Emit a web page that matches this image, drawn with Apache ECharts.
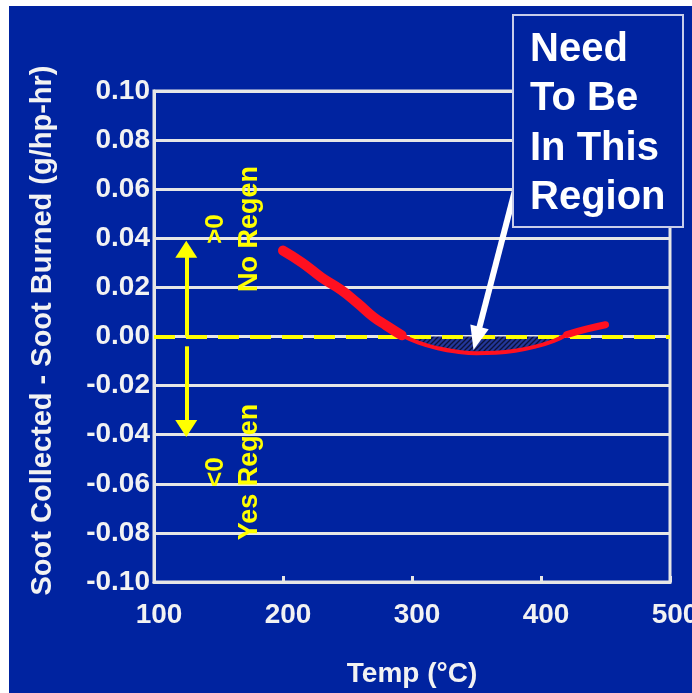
<!DOCTYPE html>
<html>
<head>
<meta charset="utf-8">
<script src="https://cdn.jsdelivr.net/npm/echarts@6/dist/echarts.min.js"></script>
<style>
  html, body { margin: 0; padding: 0; background: #ffffff; overflow: hidden; }
  #chart { width: 692px; height: 693px; }
</style>
</head>
<body>
<div id="chart"></div>
<script>
// temperature (°C) and soot collected - soot burned (g/hp-hr)
const tempC = [200, 215, 230, 245, 258, 270, 280, 292, 305, 320, 335, 350, 365, 380, 395, 410, 420, 435, 450];
const sootDiff = [0.035, 0.030, 0.024, 0.019, 0.0135, 0.008, 0.0045, 0.0005, -0.0025, -0.0048, -0.0062, -0.0068, -0.0066, -0.0058, -0.0042, -0.0018, 0.0008, 0.003, 0.0048];

// where the curve changes thickness (indices into the arrays above)
const thickEnd = 7;   // 200..292 drawn thick
const thinEnd = 16;   // 292..420 drawn thin, hatched down to zero

const calloutLines = ["Need", "To Be", "In This", "Region"];

const BLUE = "#0023a0";
const FONT = "'Liberation Sans', Arial, sans-serif";

const points = tempC.map((t, i) => [t, sootDiff[i]]);

// diagonal hatch for the region under zero
const hatch = document.createElement("canvas");
hatch.width = 5;
hatch.height = 5;
const hctx = hatch.getContext("2d");
hctx.fillStyle = "#23379a";
hctx.fillRect(0, 0, 5, 5);
hctx.strokeStyle = "#0b1238";
hctx.lineWidth = 1.3;
hctx.beginPath();
hctx.moveTo(-1, 6); hctx.lineTo(6, -1);
hctx.moveTo(-1, 1); hctx.lineTo(1, -1);
hctx.moveTo(4, 6); hctx.lineTo(6, 4);
hctx.stroke();

const chart = echarts.init(document.getElementById("chart"));

const redLine = (data, width) => ({
  type: "line",
  data: data,
  symbol: "none",
  smooth: true,
  lineStyle: { color: "#ff1020", width: width, cap: "round" },
  z: 5,
});

chart.setOption({
  backgroundColor: BLUE,
  animation: false,
  grid: {
    left: 154,
    right: 22,
    top: 91,
    bottom: 111,
    containLabel: false,
    outerBoundsMode: "none",
    show: true,
    borderColor: "#e6e6e6",
    borderWidth: 3,
    backgroundColor: "transparent",
  },
  xAxis: {
    type: "value",
    min: 100,
    max: 500,
    interval: 100,
    name: "Temp (°C)",
    nameLocation: "middle",
    nameGap: 78,
    nameTextStyle: { color: "#f2f2f2", fontSize: 28, fontWeight: "bold", fontFamily: FONT },
    axisLine: { show: true, onZero: false, lineStyle: { color: "#e6e6e6", width: 3 } },
    axisTick: { show: true, inside: true, length: 6, lineStyle: { color: "#e6e6e6", width: 3 } },
    axisLabel: {
      color: "#f2f2f2",
      fontSize: 28,
      fontWeight: "bold",
      fontFamily: FONT,
      margin: 19,
      padding: [0, 0, 0, 10],
    },
    splitLine: { show: false },
  },
  yAxis: {
    type: "value",
    min: -0.1,
    max: 0.1,
    interval: 0.02,
    name: "Soot Collected - Soot Burned (g/hp-hr)",
    nameLocation: "middle",
    nameGap: 97,
    nameTextStyle: { color: "#f2f2f2", fontSize: 29, fontWeight: "bold", fontFamily: FONT, padding: [0, 0, 0, 12] },
    axisLine: { show: true, onZero: false, lineStyle: { color: "#e6e6e6", width: 3 } },
    axisTick: { show: false },
    axisLabel: {
      color: "#f2f2f2",
      fontSize: 28,
      fontWeight: "bold",
      fontFamily: FONT,
      margin: 4,
      formatter: (v) => v.toFixed(2),
    },
    splitLine: { show: true, lineStyle: { color: "#e6e6e6", width: 3 } },
  },
  series: [
    // hatched region between the curve and zero
    {
      type: "line",
      data: points.slice(thickEnd, thinEnd + 1),
      symbol: "none",
      smooth: true,
      lineStyle: { width: 0 },
      areaStyle: { color: { image: hatch, repeat: "repeat" }, opacity: 1 },
      z: 2,
    },
    // yellow dashed zero line and the up / down arrows
    {
      type: "line",
      data: [],
      z: 4,
      markLine: {
        silent: true,
        symbol: ["none", "none"],
        label: { show: false },
        emphasis: { disabled: true },
        data: [
          { yAxis: 0, lineStyle: { color: "#ffff00", width: 4, type: [21, 11] } },
          [
            { coord: [125, 0.0], symbol: "none", lineStyle: { color: "#ffff00", width: 4, type: "solid" } },
            { coord: [125, 0.0355], symbol: "triangle", symbolSize: [22, 17] },
          ],
          [
            { coord: [125, -0.004], symbol: "none", lineStyle: { color: "#ffff00", width: 4, type: "solid" } },
            { coord: [125, -0.0375], symbol: "triangle", symbolSize: [22, 17] },
          ],
        ],
      },
    },
    redLine(points.slice(0, thickEnd + 1), 10),
    redLine(points.slice(thickEnd, thinEnd + 1), 4),
    redLine(points.slice(thinEnd), 7),
    // white pointer arrow from the callout
    {
      type: "line",
      data: [],
      z: 6,
      markLine: {
        silent: true,
        symbol: ["none", "none"],
        label: { show: false },
        emphasis: { disabled: true },
        data: [
          [
            { coord: [382, 0.064], symbol: "none", lineStyle: { color: "#ffffff", width: 6, type: "solid" } },
            { coord: [350, -0.0008], symbol: "triangle", symbolSize: [19, 24] },
          ],
        ],
      },
    },
  ],
  graphic: [
    { type: "rect", shape: { x: 0, y: 0, width: 9, height: 693 }, style: { fill: "#ffffff" }, z: 10 },
    { type: "rect", shape: { x: 0, y: 0, width: 692, height: 6 }, style: { fill: "#ffffff" }, z: 10 },
    {
      type: "rect",
      shape: { x: 513, y: 15, width: 170, height: 212 },
      style: { fill: BLUE, stroke: "#c8cdea", lineWidth: 2 },
      z: 20,
    },
    {
      type: "text",
      x: 530,
      y: 25,
      z: 21,
      style: {
        text: calloutLines.join("\n"),
        fill: "#ffffff",
        font: "bold 40px " + FONT,
        lineHeight: 49.5,
        textAlign: "left",
        textVerticalAlign: "top",
      },
    },
    {
      type: "text", x: 216, y: 229, rotation: Math.PI / 2, z: 21,
      style: { text: ">0", fill: "#ffff00", font: "bold 26px " + FONT, textAlign: "center", textVerticalAlign: "middle" },
    },
    {
      type: "text", x: 250, y: 229, rotation: Math.PI / 2, z: 21,
      style: { text: "No Regen", fill: "#ffff00", font: "bold 27px " + FONT, textAlign: "center", textVerticalAlign: "middle" },
    },
    {
      type: "text", x: 216, y: 472, rotation: Math.PI / 2, z: 21,
      style: { text: "<0", fill: "#ffff00", font: "bold 26px " + FONT, textAlign: "center", textVerticalAlign: "middle" },
    },
    {
      type: "text", x: 250, y: 472, rotation: Math.PI / 2, z: 21,
      style: { text: "Yes Regen", fill: "#ffff00", font: "bold 27px " + FONT, textAlign: "center", textVerticalAlign: "middle" },
    },
  ],
});

window.addEventListener("resize", () => chart.resize());
</script>
</body>
</html>
